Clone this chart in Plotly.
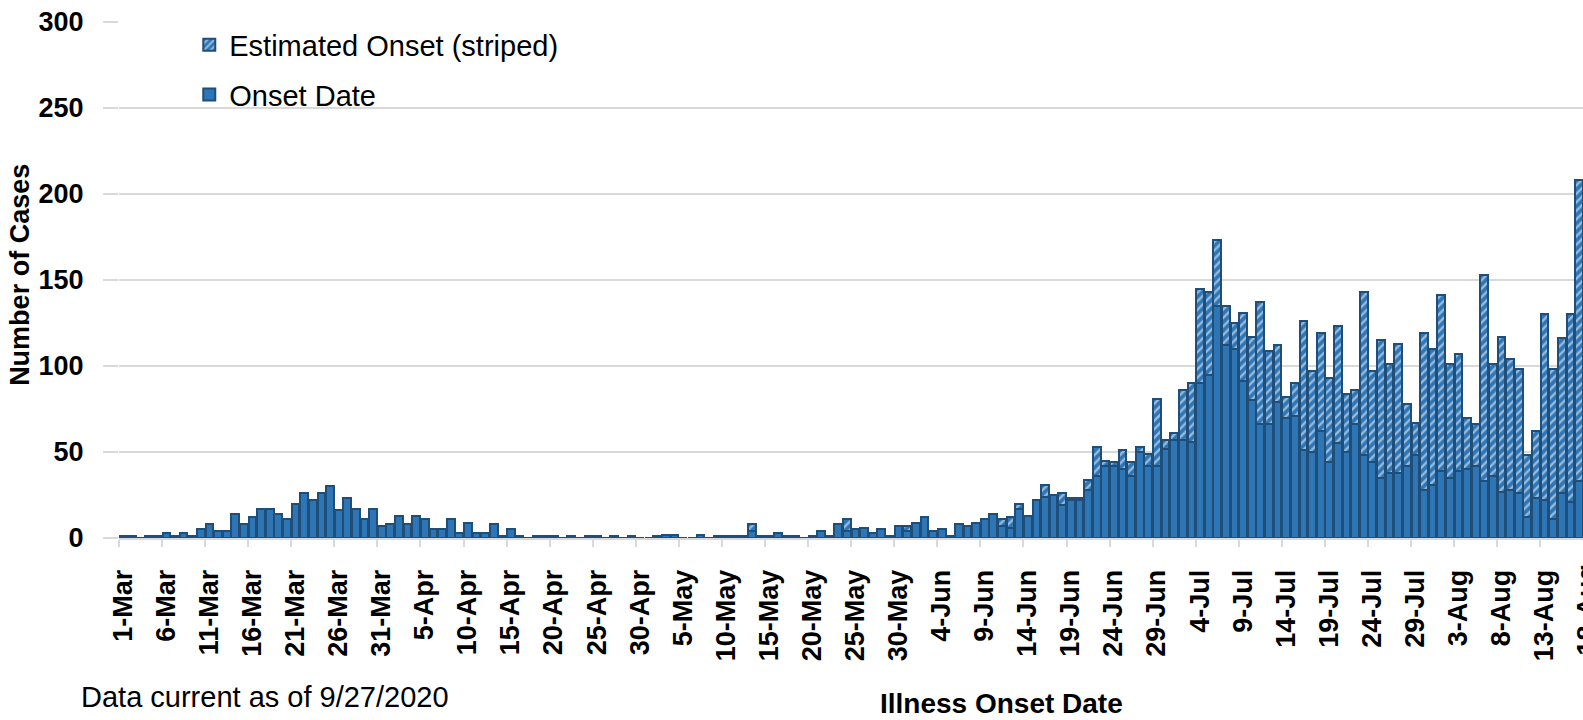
import pandas as pd
import plotly.graph_objects as go

# daily case counts, starting 1-Mar-2020
onset = [
    1, 1, 0, 1, 1, 3, 1, 3, 1, 5,
    8, 4, 4, 14, 8, 12, 17, 17, 14, 11,
    20, 26, 22, 26, 30, 16, 23, 17, 11, 17,
    7, 8, 13, 8, 13, 11, 5, 5, 11, 3,
    9, 3, 3, 8, 1, 5, 1, 0, 1, 1,
    1, 0, 1, 0, 1, 1, 0, 1, 0, 1,
    0, 0, 1, 2, 2, 0, 0, 2, 0, 1,
    1, 1, 1, 4, 1, 1, 3, 1, 1, 0,
    1, 4, 1, 8, 4, 5, 6, 3, 5, 1,
    7, 4, 9, 12, 4, 5, 1, 8, 7, 9,
    11, 14, 7, 6, 17, 13, 22, 24, 25, 19,
    22, 22, 28, 36, 42, 42, 40, 36, 50, 42,
    42, 52, 57, 57, 56, 90, 95, 135, 112, 110,
    91, 80, 66, 66, 79, 70, 71, 51, 50, 62,
    44, 55, 50, 66, 48, 44, 35, 38, 38, 42,
    48, 28, 31, 39, 35, 39, 40, 42, 33, 36,
    27, 28, 26, 12, 23, 22, 11, 26, 21, 33,
]

estimated = [
    0, 0, 0, 0, 0, 0, 0, 0, 0, 0,
    0, 0, 0, 0, 0, 0, 0, 0, 0, 0,
    0, 0, 0, 0, 0, 0, 0, 0, 0, 0,
    0, 0, 0, 0, 0, 0, 0, 0, 0, 0,
    0, 0, 0, 0, 0, 0, 0, 0, 0, 0,
    0, 0, 0, 0, 0, 0, 0, 0, 0, 0,
    0, 0, 0, 0, 0, 0, 0, 0, 0, 0,
    0, 0, 0, 4, 0, 0, 0, 0, 0, 0,
    0, 0, 0, 0, 7, 0, 0, 0, 0, 0,
    0, 3, 0, 0, 0, 0, 0, 0, 0, 0,
    0, 0, 4, 6, 3, 0, 0, 7, 0, 7,
    1, 1, 6, 17, 3, 2, 11, 8, 3, 7,
    39, 5, 4, 29, 34, 55, 48, 38, 23, 15,
    40, 37, 71, 43, 33, 12, 19, 75, 47, 57,
    49, 68, 34, 20, 95, 53, 80, 63, 75, 36,
    19, 91, 79, 102, 66, 68, 30, 24, 120, 65,
    90, 76, 72, 36, 39, 108, 87, 90, 109, 175,
]

dates = pd.date_range("2020-03-01", periods=len(onset), freq="D")
# labelled every 5 days, tick sits on the left edge of the day
label_days = pd.date_range("2020-03-01", "2020-08-13", freq="5D")
tick_pos = label_days - pd.Timedelta(hours=12)
tick_labels = [f"{d.day}-{d.strftime('%b')}" for d in label_days]

FONT = "Liberation Sans, Arial, sans-serif"
BLUE = "#2e75b6"
EDGE = "#1f4e79"
GRID = "#d9d9d9"

fig = go.Figure()
fig.add_trace(go.Bar(
    x=dates, y=onset, name="Onset Date", legendrank=2, legendgroup="a",
    marker=dict(color=BLUE, line=dict(color=EDGE, width=2)),
))
fig.add_trace(go.Bar(
    x=dates, y=estimated, name="Estimated Onset (striped)", legendrank=1, legendgroup="b",
    marker=dict(color=BLUE, line=dict(color=EDGE, width=2),
                pattern=dict(shape="/", fgcolor="white", size=6, solidity=0.4)),
))

fig.update_layout(
    width=1583, height=720,
    barmode="stack", bargap=0.1,
    plot_bgcolor="white", paper_bgcolor="white",
    margin=dict(l=119, r=0, t=22, b=182),
    font=dict(family=FONT, color="black"),
    legend=dict(x=0.048, y=1.005, xanchor="left", yanchor="top",
                traceorder="grouped", tracegroupgap=9,
                font=dict(size=29, family=FONT), bgcolor="rgba(0,0,0,0)"),
)

fig.update_xaxes(
    type="date",
    range=["2020-02-29 12:00", "2020-08-17 11:00"],
    tickmode="array", tickvals=tick_pos, ticktext=tick_labels,
    tickangle=-90, ticks="outside", ticklen=7, tickwidth=2, tickcolor=GRID,
    ticklabelstandoff=12, ticklabelshift=4,
    tickfont=dict(size=27, family=FONT, color="black", weight="bold"),
    showgrid=False, showline=True, linecolor=GRID, linewidth=2,
)

fig.update_yaxes(
    range=[0, 300], dtick=50,
    showgrid=True, gridcolor=GRID, gridwidth=2, zeroline=False,
    ticks="outside", ticklen=15, tickwidth=2, tickcolor=GRID,
    ticklabelstandoff=14,
    tickfont=dict(size=27, family=FONT, color="black", weight="bold"),
)

# cropped last date label at the right edge
fig.add_annotation(x=1.0, y=-0.0455, xref="paper", yref="paper", xshift=4,
                   text="<b>18-Aug</b>", textangle=-90, showarrow=False,
                   xanchor="center", yanchor="top",
                   font=dict(size=27, family=FONT))

fig.add_annotation(x=-0.0676, y=0.51, xref="paper", yref="paper",
                   text="<b>Number of Cases</b>", textangle=-90, showarrow=False,
                   xanchor="center", yanchor="middle",
                   font=dict(size=27, family=FONT))
fig.add_annotation(x=0.6025, y=-0.321, xref="paper", yref="paper",
                   text="<b>Illness Onset Date</b>", showarrow=False,
                   xanchor="center", yanchor="middle",
                   font=dict(size=28, family=FONT))
fig.add_annotation(x=-0.027, y=-0.309, xref="paper", yref="paper",
                   text="Data current as of 9/27/2020", showarrow=False,
                   xanchor="left", yanchor="middle",
                   font=dict(size=29, family=FONT))

fig.write_html("out.html", config={"displayModeBar": False},
               post_script="document.body.style.margin='0';")
